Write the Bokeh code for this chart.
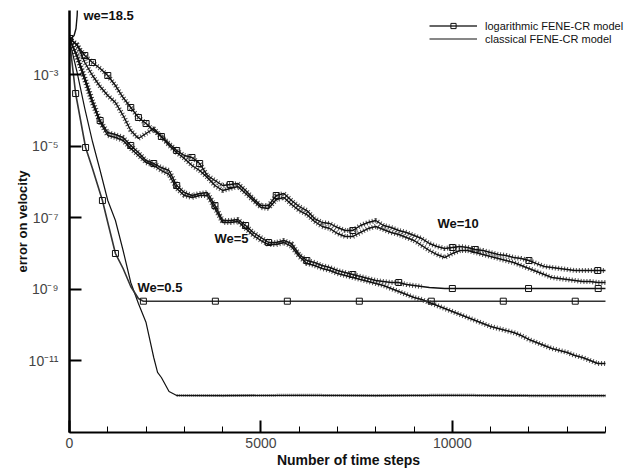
import numpy as np
from bokeh.plotting import figure
from bokeh.models import (Range1d, FixedTicker, SingleIntervalTicker, CustomJSTickFormatter,
                          Label, Legend, LegendItem)
from bokeh.embed import file_html
from bokeh.resources import INLINE

# ---------------- data (log10 of the velocity error) ----------------
steps = list(range(0, 14001, 200))   # common sampling of the time-step axis

lg_we10_log = [-1.994, -2.190, -2.469, -2.665, -2.832, -3.028, -3.307, -3.643, -3.922, -4.201,
               -4.369, -4.564, -4.732, -4.928, -5.123, -5.263, -5.318, -5.486, -5.821, -5.961,
               -6.101, -6.073, -6.045, -6.240, -6.464, -6.660, -6.660, -6.380, -6.324, -6.520,
               -6.687, -6.799, -7.023, -7.134, -7.162, -7.274, -7.358, -7.358, -7.218, -7.134,
               -7.078, -7.218, -7.274, -7.358, -7.413, -7.497, -7.581, -7.721, -7.804, -7.860,
               -7.832, -7.804, -7.832, -7.888, -7.916, -7.972, -8.028, -8.056, -8.112, -8.140,
               -8.196, -8.280, -8.363, -8.391, -8.419, -8.447, -8.475, -8.475, -8.475, -8.475,
               -8.475]

lg_we10_cl = [-1.994, -2.162, -2.665, -3.028, -3.335, -3.587, -3.782, -4.145, -4.564, -4.788,
              -4.648, -4.509, -4.732, -4.983, -5.179, -5.346, -5.542, -5.682, -5.877, -6.101,
              -6.240, -6.185, -6.129, -6.324, -6.520, -6.715, -6.743, -6.492, -6.436, -6.632,
              -6.799, -6.911, -7.106, -7.246, -7.302, -7.441, -7.525, -7.525, -7.413, -7.302,
              -7.246, -7.330, -7.413, -7.469, -7.553, -7.637, -7.777, -7.916, -8.028, -8.112,
              -8.000, -7.916, -7.916, -7.972, -8.028, -8.084, -8.140, -8.196, -8.252, -8.335,
              -8.419, -8.503, -8.587, -8.671, -8.699, -8.727, -8.754, -8.782, -8.782, -8.810,
              -8.810]

lg_we5_cl = [-1.994, -2.525, -3.168, -3.810, -4.341, -4.704, -4.760, -4.844, -5.067, -5.263,
             -5.458, -5.542, -5.682, -5.793, -6.185, -6.380, -6.436, -6.380, -6.380, -6.743,
             -7.134, -7.134, -7.106, -7.302, -7.497, -7.637, -7.749, -7.749, -7.693, -7.804,
             -8.084, -8.280, -8.335, -8.419, -8.475, -8.559, -8.615, -8.671, -8.727, -8.782,
             -8.838, -8.894, -8.978, -9.062, -9.145, -9.229, -9.285, -9.369, -9.453, -9.536,
             -9.620, -9.704, -9.788, -9.872, -9.955, -10.039, -10.095, -10.151, -10.207, -10.291,
             -10.402, -10.486, -10.570, -10.654, -10.710, -10.765, -10.849, -10.905, -10.989, -11.073,
             -11.073]

steps_we5_log = list(range(0, 10001, 200)) + [11990, 13810, 14000]
lg_we5_log = [-1.994, -2.469, -3.084, -3.726, -4.285, -4.620, -4.676, -4.760, -4.983, -5.179,
              -5.402, -5.486, -5.598, -5.682, -6.101, -6.296, -6.380, -6.324, -6.296, -6.660,
              -7.078, -7.078, -7.050, -7.218, -7.413, -7.553, -7.693, -7.693, -7.637, -7.721,
              -8.028, -8.196, -8.252, -8.335, -8.391, -8.475, -8.531, -8.587, -8.643, -8.699,
              -8.754, -8.782, -8.810, -8.810, -8.866, -8.894, -8.922, -8.950, -8.964, -8.978,
              -8.978, -8.978, -8.978, -8.978]

steps_we05_log = [0, 160, 420, 600, 860, 1000, 1200, 1400, 1600, 1800, 1930,
                  3810, 5690, 7570, 9450, 11330, 13210, 14000]
lg_we05_log = [-2.050, -3.531, -5.039, -5.626, -6.520, -7.134, -8.000, -8.419, -8.922, -9.257,
               -9.332, -9.332, -9.332, -9.332, -9.332, -9.332, -9.332, -9.332]

steps_we05_cl = [0, 200, 400, 600, 800, 1000, 1200, 1400, 1600, 1800, 2000, 2200, 2300, 2400,
                 2600, 2800, 4000, 6000, 8000, 10000, 12000, 14000]
lg_we05_cl = [-2.050, -2.944, -3.950, -4.872, -5.682, -6.520, -7.078, -7.916, -8.810, -9.397,
              -9.930, -10.905, -11.320, -11.464, -11.855, -11.967, -11.970, -11.960, -11.970,
              -11.960, -11.970, -11.970]

steps_we185_cl = [0, 120, 170, 200, 215, 230]
lg_we185_cl = [-2.050, -1.911, -1.715, -1.352, -0.933, 0.0]

# marker positions (indices into the series above)
mk_we10_log = [0, 2, 3, 5, 8, 9, 10, 12, 14, 16, 17, 21, 27, 37, 50, 53, 60, 69]
mk_we5_log = [0, 4, 8, 11, 14, 19, 23, 26, 31, 37, 43, 50, 51, 52]
mk_we05_log = [1, 2, 4, 6, 10, 11, 12, 13, 14, 15, 16]

y_ticks = [1e-3, 1e-5, 1e-7, 1e-9, 1e-11]
x_last = 14000


def err(lg):
    return [10.0 ** v for v in lg]


# ---------------- figure ----------------
p = figure(width=627, height=471, y_axis_type="log",
           x_range=Range1d(0, 14575), y_range=Range1d(1e-13, 10 ** -1.212),
           output_backend="svg", toolbar_location=None,
           min_border_left=69, min_border_right=0, min_border_top=10, min_border_bottom=39)
p.grid.visible = False
p.outline_line_color = None
p.background_fill_color = "white"
p.border_fill_color = "white"

FONT = "Liberation Sans"
BLACK = "#111111"

# comb overlay to reproduce the fine oscillations of the noisy curves
def comb(xs, ys, width=5, alpha=0.75):
    p.line(xs, ys, line_color=BLACK, line_width=width, line_dash="1 2", line_alpha=alpha)

# We = 10
comb(steps, err(lg_we10_log))
comb(steps, err(lg_we10_cl))
p.line(steps, err(lg_we10_log), line_color=BLACK, line_width=1.4)
p.line(steps, err(lg_we10_cl), line_color=BLACK, line_width=1.4)
p.scatter([steps[i] for i in mk_we10_log], [10 ** lg_we10_log[i] for i in mk_we10_log],
          marker="square", size=6, line_color=BLACK, fill_color=None, line_width=1)

# We = 5
comb(steps_we5_log[:47], err(lg_we5_log[:47]))
comb(steps, err(lg_we5_cl))
p.line(steps_we5_log, err(lg_we5_log), line_color=BLACK, line_width=1.4)
p.line(steps, err(lg_we5_cl), line_color=BLACK, line_width=1.4)
p.scatter([steps_we5_log[i] for i in mk_we5_log], [10 ** lg_we5_log[i] for i in mk_we5_log],
          marker="square", size=6, line_color=BLACK, fill_color=None, line_width=1)

# We = 0.5
p.line(steps_we05_cl[15:], err(lg_we05_cl[15:]), line_color=BLACK, line_width=3,
       line_dash="1 1", line_alpha=0.7)
r05c = p.line(steps_we05_cl, err(lg_we05_cl), line_color=BLACK, line_width=1.2)
r05l = p.line(steps_we05_log, err(lg_we05_log), line_color="#333333", line_width=1.6)
r05m = p.scatter([steps_we05_log[i] for i in mk_we05_log], [10 ** lg_we05_log[i] for i in mk_we05_log],
                 marker="square", size=6, line_color=BLACK, fill_color=None, line_width=1)

# We = 18.5 (classical, diverging)
p.line(steps_we185_cl, err(lg_we185_cl), line_color=BLACK, line_width=1.4)

# ---------------- axes ----------------
xa = p.xaxis[0]
xa.bounds = (0, x_last)
xa.ticker = SingleIntervalTicker(interval=5000, num_minor_ticks=5)
xa.major_tick_in = 12
xa.major_tick_out = 0
xa.minor_tick_in = 6
xa.minor_tick_out = 0
xa.axis_line_width = 2
xa.major_tick_line_width = 2
xa.axis_label = "Number of time steps"
xa.axis_label_text_font = FONT
xa.axis_label_text_font_style = "bold"
xa.axis_label_text_font_size = "14px"
xa.axis_label_text_color = BLACK
xa.axis_label_standoff = 1
xa.major_label_standoff = 5
xa.major_label_text_font = FONT
xa.major_label_text_font_size = "14px"
xa.major_label_text_color = "#444444"

ya = p.yaxis[0]
ya.ticker = FixedTicker(ticks=y_ticks, minor_ticks=[])
ya.formatter = CustomJSTickFormatter(code="""
const sup = {'-':'\u207b','0':'\u2070','1':'\u00b9','2':'\u00b2','3':'\u00b3','4':'\u2074',
             '5':'\u2075','6':'\u2076','7':'\u2077','8':'\u2078','9':'\u2079'};
const e = Math.round(Math.log10(tick));
return '10' + String(e).split('').map(c => sup[c]).join('');
""")
ya.major_tick_in = 12
ya.major_tick_out = 0
ya.minor_tick_in = 0
ya.minor_tick_out = 0
ya.axis_line_width = 2.5
ya.major_tick_line_width = 2
ya.axis_label = "error on velocity"
ya.axis_label_text_font = FONT
ya.axis_label_text_font_style = "bold"
ya.axis_label_text_font_size = "13px"
ya.axis_label_text_color = BLACK
ya.axis_label_standoff = -4
ya.major_label_standoff = 11
ya.major_label_text_font = FONT
ya.major_label_text_font_size = "14px"
ya.major_label_text_color = "#444444"

# ---------------- annotations ----------------
def ann(text, x, lg):
    p.add_layout(Label(x=x, y=10 ** lg, text=text, text_font=FONT, text_font_style="bold",
                       text_font_size="13px", text_color=BLACK, text_baseline="middle"))

ann("we=18.5", 366, -1.352)
ann("We=5", 3787, -7.581)
ann("We=10", 9612, -7.162)
ann("We=0.5", 1776, -8.950)

legend = Legend(items=[LegendItem(label="logarithmic FENE-CR model", renderers=[r05l, r05m]),
                       LegendItem(label="classical FENE-CR model", renderers=[r05c])],
                location=(360, 387))
legend.border_line_color = None
legend.background_fill_alpha = 0
legend.padding = 0
legend.margin = 0
legend.spacing = 0
legend.glyph_width = 48
legend.glyph_height = 13
legend.label_height = 13
legend.label_standoff = 8
legend.label_text_font = FONT
legend.label_text_font_size = "11px"
legend.label_text_color = BLACK
p.add_layout(legend)

open("out.html", "w").write(file_html(p, INLINE))
